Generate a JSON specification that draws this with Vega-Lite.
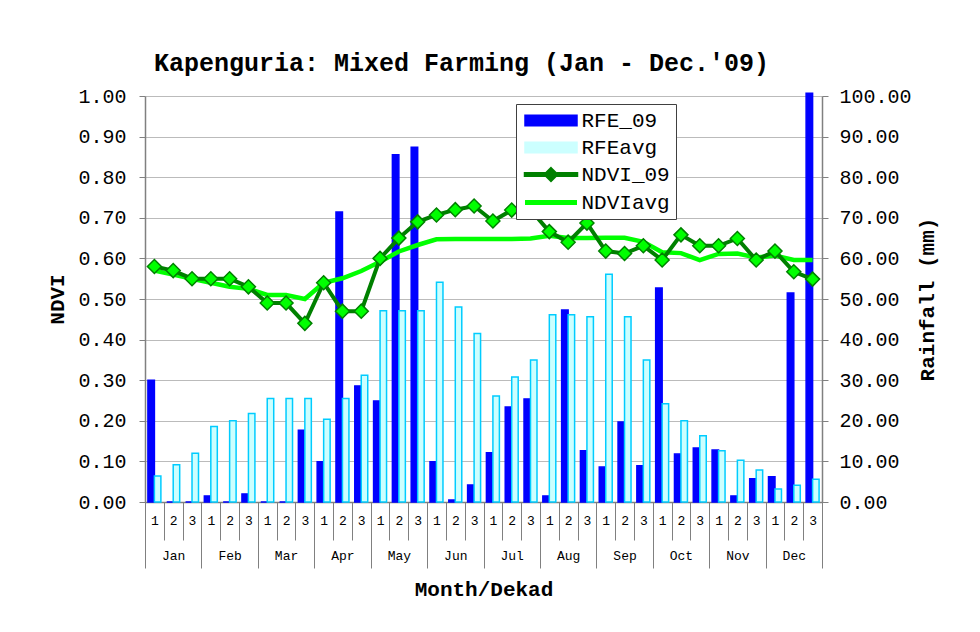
{
 "$schema": "https://vega.github.io/schema/vega-lite/v6.json",
 "width": 677,
 "height": 406,
 "autosize": {"type": "none"},
 "padding": {"left": 145, "top": 96, "right": 158, "bottom": 130},
 "background": "white",
 "title": {"text": "Kapenguria: Mixed Farming (Jan - Dec.'09)", "font": "Liberation Mono", "fontSize": 25, "fontWeight": "bold", "anchor": "middle", "frame": "group", "dx": -22, "offset": 10, "color": "black"},
 "config": {
  "view": {"stroke": null},
  "axis": {"labelFont": "Liberation Mono", "titleFont": "Liberation Mono", "labelColor": "black", "titleColor": "black", "domainColor": "#808080", "tickColor": "#808080", "gridColor": "#BBBBBB", "domainWidth": 1.5}
 },
 "data": {"values": [
  {"m": "Jan", "key": "Jan1", "RFE_09": 30.0, "RFEavg": 6.4, "NDVI_09": 0.58, "NDVIavg": 0.57},
  {"m": "Jan", "key": "Jan2", "RFE_09": 0, "RFEavg": 9.2, "NDVI_09": 0.57, "NDVIavg": 0.56},
  {"m": "Jan", "key": "Jan3", "RFE_09": 0, "RFEavg": 12.0, "NDVI_09": 0.55, "NDVIavg": 0.55},
  {"m": "Feb", "key": "Feb1", "RFE_09": 1.5, "RFEavg": 18.6, "NDVI_09": 0.55, "NDVIavg": 0.54},
  {"m": "Feb", "key": "Feb2", "RFE_09": 0, "RFEavg": 20.0, "NDVI_09": 0.55, "NDVIavg": 0.53},
  {"m": "Feb", "key": "Feb3", "RFE_09": 2.0, "RFEavg": 21.8, "NDVI_09": 0.53, "NDVIavg": 0.525},
  {"m": "Mar", "key": "Mar1", "RFE_09": 0, "RFEavg": 25.5, "NDVI_09": 0.49, "NDVIavg": 0.51},
  {"m": "Mar", "key": "Mar2", "RFE_09": 0, "RFEavg": 25.5, "NDVI_09": 0.49, "NDVIavg": 0.51},
  {"m": "Mar", "key": "Mar3", "RFE_09": 17.7, "RFEavg": 25.5, "NDVI_09": 0.44, "NDVIavg": 0.50},
  {"m": "Apr", "key": "Apr1", "RFE_09": 9.9, "RFEavg": 20.4, "NDVI_09": 0.54, "NDVIavg": 0.54},
  {"m": "Apr", "key": "Apr2", "RFE_09": 71.4, "RFEavg": 25.5, "NDVI_09": 0.47, "NDVIavg": 0.551},
  {"m": "Apr", "key": "Apr3", "RFE_09": 28.6, "RFEavg": 31.2, "NDVI_09": 0.47, "NDVIavg": 0.569},
  {"m": "May", "key": "May1", "RFE_09": 24.9, "RFEavg": 47.1, "NDVI_09": 0.60, "NDVIavg": 0.592},
  {"m": "May", "key": "May2", "RFE_09": 85.5, "RFEavg": 47.1, "NDVI_09": 0.65, "NDVIavg": 0.617},
  {"m": "May", "key": "May3", "RFE_09": 87.4, "RFEavg": 47.1, "NDVI_09": 0.69, "NDVIavg": 0.633},
  {"m": "Jun", "key": "Jun1", "RFE_09": 9.9, "RFEavg": 54.1, "NDVI_09": 0.707, "NDVIavg": 0.647},
  {"m": "Jun", "key": "Jun2", "RFE_09": 0.5, "RFEavg": 48.0, "NDVI_09": 0.72, "NDVIavg": 0.648},
  {"m": "Jun", "key": "Jun3", "RFE_09": 4.2, "RFEavg": 41.5, "NDVI_09": 0.729, "NDVIavg": 0.648},
  {"m": "Jul", "key": "Jul1", "RFE_09": 12.1, "RFEavg": 26.1, "NDVI_09": 0.692, "NDVIavg": 0.648},
  {"m": "Jul", "key": "Jul2", "RFE_09": 23.4, "RFEavg": 30.8, "NDVI_09": 0.719, "NDVIavg": 0.648},
  {"m": "Jul", "key": "Jul3", "RFE_09": 25.4, "RFEavg": 35.0, "NDVI_09": 0.72, "NDVIavg": 0.649},
  {"m": "Aug", "key": "Aug1", "RFE_09": 1.5, "RFEavg": 46.1, "NDVI_09": 0.666, "NDVIavg": 0.656},
  {"m": "Aug", "key": "Aug2", "RFE_09": 47.3, "RFEavg": 46.1, "NDVI_09": 0.64, "NDVIavg": 0.65},
  {"m": "Aug", "key": "Aug3", "RFE_09": 12.6, "RFEavg": 45.6, "NDVI_09": 0.687, "NDVIavg": 0.65},
  {"m": "Sep", "key": "Sep1", "RFE_09": 8.6, "RFEavg": 56.1, "NDVI_09": 0.618, "NDVIavg": 0.651},
  {"m": "Sep", "key": "Sep2", "RFE_09": 19.7, "RFEavg": 45.6, "NDVI_09": 0.612, "NDVIavg": 0.651},
  {"m": "Sep", "key": "Sep3", "RFE_09": 8.9, "RFEavg": 35.0, "NDVI_09": 0.631, "NDVIavg": 0.641},
  {"m": "Oct", "key": "Oct1", "RFE_09": 52.7, "RFEavg": 24.2, "NDVI_09": 0.596, "NDVIavg": 0.615},
  {"m": "Oct", "key": "Oct2", "RFE_09": 11.8, "RFEavg": 20.0, "NDVI_09": 0.658, "NDVIavg": 0.613},
  {"m": "Oct", "key": "Oct3", "RFE_09": 13.3, "RFEavg": 16.3, "NDVI_09": 0.631, "NDVIavg": 0.596},
  {"m": "Nov", "key": "Nov1", "RFE_09": 12.8, "RFEavg": 12.6, "NDVI_09": 0.631, "NDVIavg": 0.611},
  {"m": "Nov", "key": "Nov2", "RFE_09": 1.5, "RFEavg": 10.3, "NDVI_09": 0.649, "NDVIavg": 0.612},
  {"m": "Nov", "key": "Nov3", "RFE_09": 5.7, "RFEavg": 7.9, "NDVI_09": 0.596, "NDVIavg": 0.602},
  {"m": "Dec", "key": "Dec1", "RFE_09": 6.2, "RFEavg": 3.2, "NDVI_09": 0.618, "NDVIavg": 0.607},
  {"m": "Dec", "key": "Dec2", "RFE_09": 51.5, "RFEavg": 4.1, "NDVI_09": 0.567, "NDVIavg": 0.596},
  {"m": "Dec", "key": "Dec3", "RFE_09": 100.7, "RFEavg": 5.6, "NDVI_09": 0.549, "NDVIavg": 0.596}
 ]},
 "layer": [
  {
   "layer": [
    {
     "transform": [{"fold": ["RFE_09", "RFEavg"], "as": ["series", "rain"]}],
     "mark": {"type": "bar", "strokeWidth": 1.5, "clip": false},
     "encoding": {
      "x": {"field": "key", "type": "nominal", "sort": null, "scale": {"paddingInner": 0, "paddingOuter": 0},
            "axis": {"title": null, "orient": "bottom", "labelExpr": "isValid(datum.value) ? substring(datum.value, 3) : ''", "tickBand": "extent", "tickSize": 38, "labelPadding": -26, "labelFontSize": 13, "labelAngle": 0, "grid": false, "tickWidth": 1}},
      "xOffset": {"field": "series", "type": "nominal", "scale": {"domain": ["RFE_09", "RFEavg"], "paddingInner": 0, "paddingOuter": 0.45}},
      "y": {"field": "rain", "type": "quantitative", "stack": null, "scale": {"domain": [0, 100], "nice": false},
            "axis": {"orient": "right", "title": "Rainfall (mm)", "values": [0, 10, 20, 30, 40, 50, 60, 70, 80, 90, 100], "format": ".2f", "labelFontSize": 20, "tickSize": 6, "labelPadding": 11, "titleFontSize": 21, "titleFontWeight": "bold", "titleAngle": -90, "titleBaseline": "top", "titlePadding": 5, "grid": false}},
      "color": {"field": "series", "type": "nominal",
                "scale": {"domain": ["RFE_09", "RFEavg", "NDVI_09", "NDVIavg"], "range": ["#0000FF", "#CCFFFF", "#008000", "#00FF00"]},
                "legend": {"title": null, "orient": "none", "legendX": 371, "legendY": 8, "symbolSize": 2704, "symbolOffset": 18.5, "labelFont": "Liberation Mono", "labelFontSize": 21, "labelColor": "black", "labelOffset": 20, "fillColor": "white", "strokeColor": "#404040", "padding": 6, "rowPadding": 5,
                  "encode": {"symbols": {"update": {
                    "shape": {"signal": "datum.value === 'NDVI_09' ? 'M-1,-0.05H-0.27V0.05H-1Z M0.27,-0.05H1V0.05H0.27Z M0,-0.24L0.24,0L0,0.24L-0.24,0Z' : datum.value === 'NDVIavg' ? 'M-1,0H1' : 'M-1,-0.2H1V0.2H-1Z'"},
                    "fill": {"signal": "datum.value === 'RFE_09' ? '#0000FF' : datum.value === 'RFEavg' ? '#CCFFFF' : datum.value === 'NDVI_09' ? '#00FF00' : 'transparent'"},
                    "stroke": {"signal": "datum.value === 'RFE_09' ? '#0000FF' : datum.value === 'RFEavg' ? '#00CCFF' : datum.value === 'NDVI_09' ? '#008000' : '#00FF00'"},
                    "strokeWidth": {"signal": "datum.value === 'NDVI_09' ? 2.5 : datum.value === 'NDVIavg' ? 5 : 1.5"},
                    "size": {"value": 2704},
                    "opacity": {"value": 1},
                    "fillOpacity": {"value": 1},
                    "strokeOpacity": {"value": 1}
                  }}}}},
      "stroke": {"field": "series", "type": "nominal", "scale": {"domain": ["RFE_09", "RFEavg"], "range": ["#0000FF", "#00CCFF"]}, "legend": null}
     }
    },
    {
     "layer": [
      {
       "mark": {"type": "line", "strokeWidth": 4.5},
       "encoding": {
        "x": {"field": "key", "type": "nominal", "sort": null},
        "y": {"field": "NDVIavg", "type": "quantitative", "title": "NDVI", "scale": {"domain": [0, 1], "nice": false},
              "axis": {"orient": "left", "title": "NDVI", "values": [0, 0.1, 0.2, 0.3, 0.4, 0.5, 0.6, 0.7, 0.8, 0.9, 1], "format": ".2f", "labelFontSize": 20, "tickSize": 6, "labelPadding": 13, "titleFontSize": 21, "titleFontWeight": "bold", "titlePadding": 10, "grid": true}},
        "color": {"datum": "NDVIavg", "type": "nominal", "scale": {"domain": ["RFE_09", "RFEavg", "NDVI_09", "NDVIavg"], "range": ["#0000FF", "#CCFFFF", "#008000", "#00FF00"]}}
       }
      },
      {
       "mark": {"type": "line", "strokeWidth": 4},
       "encoding": {
        "x": {"field": "key", "type": "nominal", "sort": null},
        "y": {"field": "NDVI_09", "type": "quantitative", "title": "NDVI"},
        "color": {"datum": "NDVI_09", "type": "nominal", "scale": {"domain": ["RFE_09", "RFEavg", "NDVI_09", "NDVIavg"], "range": ["#0000FF", "#CCFFFF", "#008000", "#00FF00"]}}
       }
      },
      {
       "mark": {"type": "point", "shape": "diamond", "filled": true, "size": 196, "fill": "#00FF00", "stroke": "#008000", "strokeWidth": 1.5, "opacity": 1},
       "encoding": {
        "x": {"field": "key", "type": "nominal", "sort": null},
        "y": {"field": "NDVI_09", "type": "quantitative", "title": "NDVI"}
       }
      }
     ]
    }
   ],
   "resolve": {"scale": {"y": "independent"}}
  },
  {
   "mark": {"type": "rule", "opacity": 0},
   "encoding": {
    "x": {"field": "m", "type": "nominal", "sort": null, "scale": {"type": "band", "paddingInner": 0, "paddingOuter": 0},
          "axis": {"title": "Month/Dekad", "orient": "bottom", "tickBand": "extent", "tickSize": 66, "labelPadding": -19, "labelFontSize": 13, "labelAngle": 0, "titleFontSize": 21, "titleFontWeight": "bold", "titlePadding": 10, "domain": false, "grid": false, "tickWidth": 1}}
   }
  }
 ],
 "resolve": {"scale": {"x": "independent"}}
}
